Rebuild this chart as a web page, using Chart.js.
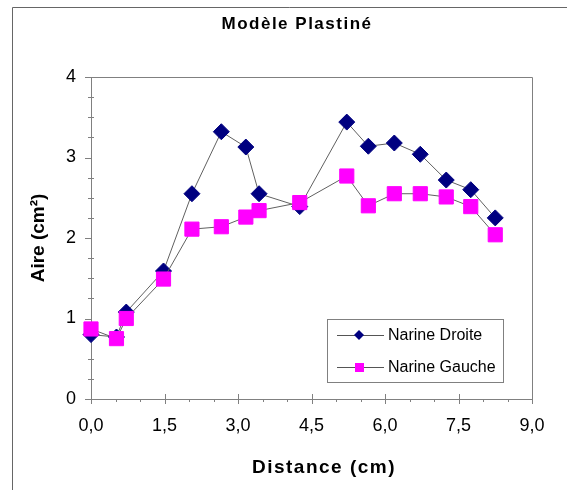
<!DOCTYPE html>
<html>
<head>
<meta charset="utf-8">
<script src="https://cdn.jsdelivr.net/npm/chart.js@4"></script>
<style>
  html, body { margin: 0; padding: 0; background: #fff; }
</style>
</head>
<body>
<canvas id="chart" width="567" height="490"></canvas>
<script>
const TITLE = 'Modèle Plastiné';
const X_TITLE = 'Distance (cm)';
const Y_TITLE = 'Aire (cm²)';

// Distance (cm) and area (cm²)
const distance     = [0, 0.52, 0.72, 1.48, 2.06, 2.66, 3.16, 3.43, 4.26, 5.22, 5.66, 6.19, 6.72, 7.25, 7.75, 8.25];
const narineDroite = [0.80, 0.77, 1.08, 1.59, 2.55, 3.32, 3.13, 2.55, 2.39, 3.44, 3.14, 3.18, 3.04, 2.72, 2.60, 2.25];
const narineGauche = [0.87, 0.75, 1.00, 1.49, 2.11, 2.14, 2.26, 2.34, 2.44, 2.77, 2.40, 2.55, 2.55, 2.51, 2.39, 2.04];

const seriesLabels = ['Narine Droite', 'Narine Gauche'];
const FONT = '"Liberation Sans", Arial, sans-serif';

// frame, plot box, major/minor ticks, titles and the boxed legend (Excel look)
const excelLook = {
  id: 'excelLook',
  beforeDatasetsDraw(chart) {
    const ctx = chart.ctx;
    const { left, right, top, bottom } = chart.chartArea;
    const xs = chart.scales.x, ys = chart.scales.y;
    ctx.save();
    ctx.lineWidth = 1;
    ctx.strokeStyle = '#666';
    ctx.beginPath();
    ctx.moveTo(12.5, 490);
    ctx.lineTo(12.5, 7.5);
    ctx.lineTo(567, 7.5);
    ctx.stroke();

    ctx.strokeStyle = '#808080';
    ctx.beginPath();
    ctx.moveTo(left, top + 0.5);
    ctx.lineTo(right + 0.5, top + 0.5);
    ctx.lineTo(right + 0.5, bottom);
    ctx.stroke();

    ctx.beginPath();
    for (let v = 0; v <= 9.0001; v += 0.5) {
      const px = Math.round(xs.getPixelForValue(v)) + 0.5;
      const major = Math.abs(v / 1.5 - Math.round(v / 1.5)) < 1e-6;
      ctx.moveTo(px, bottom - (major ? 5 : 0));
      ctx.lineTo(px, bottom + (major ? 5 : 3));
    }
    for (let v = 0; v <= 4.0001; v += 0.25) {
      const py = Math.round(ys.getPixelForValue(v)) + 0.5;
      const major = Math.abs(v - Math.round(v)) < 1e-6;
      ctx.moveTo(left - (major ? 6 : 3), py);
      ctx.lineTo(left + (major ? 0 : 3), py);
    }
    ctx.stroke();
    ctx.restore();
  },
  afterDraw(chart) {
    const ctx = chart.ctx;
    ctx.save();
    ctx.fillStyle = '#000';
    ctx.textAlign = 'center';
    ctx.textBaseline = 'middle';
    ctx.letterSpacing = '1.5px';
    ctx.font = 'bold 17px ' + FONT;
    ctx.fillText(TITLE, 297, 24);
    ctx.font = 'bold 19px ' + FONT;
    ctx.fillText(X_TITLE, 324, 468);
    ctx.letterSpacing = '0px';

    // legend
    ctx.fillStyle = '#fff';
    ctx.fillRect(327.5, 319.5, 176, 63);
    ctx.strokeStyle = '#808080';
    ctx.lineWidth = 1;
    ctx.strokeRect(327.5, 319.5, 176, 63);
    chart.data.datasets.forEach((ds, i) => {
      const y = 335 + i * 32;
      ctx.strokeStyle = '#555';
      ctx.beginPath();
      ctx.moveTo(337, y + 0.5);
      ctx.lineTo(384, y + 0.5);
      ctx.stroke();
      ctx.fillStyle = ds.pointBackgroundColor;
      ctx.beginPath();
      if (ds.pointStyle === 'rectRot') {
        ctx.moveTo(359, y - 5); ctx.lineTo(364, y); ctx.lineTo(359, y + 5); ctx.lineTo(354, y);
      } else {
        ctx.rect(355, y - 4, 9, 9);
      }
      ctx.closePath();
      ctx.fill();
      ctx.fillStyle = '#000';
      ctx.textAlign = 'left';
      ctx.font = '16px ' + FONT;
      ctx.fillText(ds.label, 388, y + 1);
    });
    ctx.restore();
  }
};

new Chart(document.getElementById('chart'), {
  type: 'line',
  data: {
    datasets: [{
      label: seriesLabels[0],
      data: distance.map((x, i) => ({ x, y: narineDroite[i] })),
      borderColor: '#606060',
      borderWidth: 1,
      pointStyle: 'rectRot',
      pointRadius: 8,
      pointBackgroundColor: '#000080',
      pointBorderColor: '#000080',
      pointBorderWidth: 1,
      order: 1
    }, {
      label: seriesLabels[1],
      data: distance.map((x, i) => ({ x, y: narineGauche[i] })),
      borderColor: '#606060',
      borderWidth: 1,
      pointStyle: 'rect',
      pointRadius: 10,
      pointBackgroundColor: '#FF00FF',
      pointBorderColor: '#FF00FF',
      pointBorderWidth: 1,
      order: 0
    }]
  },
  options: {
    responsive: false,
    animation: false,
    clip: false,
    layout: { padding: { top: 77, right: 35, left: 0, bottom: 0 } },
    plugins: {
      legend: { display: false },
      tooltip: { enabled: false },
      title: { display: false }
    },
    scales: {
      x: {
        type: 'linear',
        min: 0,
        max: 9,
        afterFit: s => { s.height = 91; },
        ticks: {
          stepSize: 1.5,
          autoSkip: false,
          maxRotation: 0,
          padding: 16,
          color: '#000',
          font: { family: FONT, size: 18 },
          callback: v => v.toFixed(1).replace('.', ',')
        },
        grid: { drawOnChartArea: false, drawTicks: false },
        border: { color: '#808080', width: 1 }
      },
      y: {
        min: 0,
        max: 4,
        afterFit: s => { s.width = 91; },
        ticks: {
          stepSize: 1,
          padding: 15,
          color: '#000',
          font: { family: FONT, size: 18 }
        },
        grid: { drawOnChartArea: false, drawTicks: false },
        border: { color: '#808080', width: 1 },
        title: {
          display: true,
          text: Y_TITLE,
          color: '#000',
          font: { family: FONT, size: 19, weight: 'bold' },
          padding: { top: 27, bottom: 0 }
        }
      }
    }
  },
  plugins: [excelLook]
});
</script>
</body>
</html>
